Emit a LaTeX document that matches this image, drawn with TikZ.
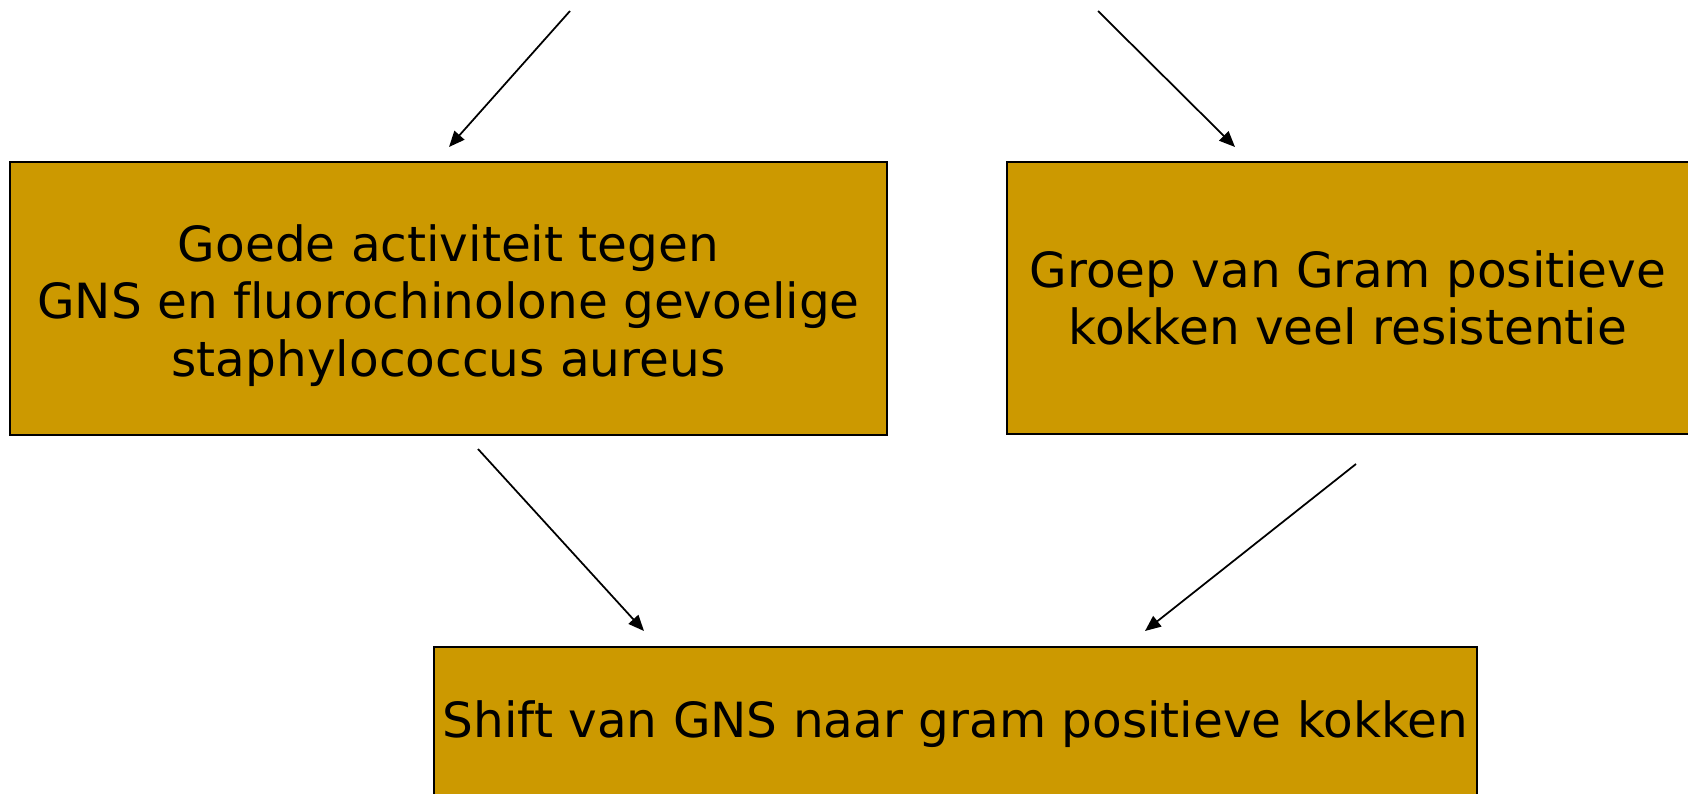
\documentclass[tikz,border=0pt]{standalone}
\usepackage{fontspec}
\setmainfont{DejaVu Sans}[Ligatures=NoCommon]
\usetikzlibrary{arrows.meta}
\definecolor{vakgoud}{HTML}{CC9900}

\begin{document}
\begin{tikzpicture}[
  x=0.02cm, y=-0.02cm, % 1 eenheid = 1 pixel, y naar beneden
  vak/.style={
    draw=black,          % zwarte rand
    line width=0.8pt,
    fill=vakgoud,        % goudkleurige vulling
    align=center,
    inner sep=0pt,
    font=\fontsize{27.6}{32.6}\selectfont
  },
  pijl/.style={
    -{Triangle[length=9pt,width=7.5pt]},
    black, line width=1pt
  }
  ]
  \useasboundingbox (0,0) rectangle (1688,794);

  % --- VAKKEN ---
  \node[vak, minimum width=17.54cm, minimum height=5.46cm] (goed) at (448.5,298.5)
    {\rule{0pt}{1.05em}Goede activiteit tegen\\ GNS en fluorochinolone gevoelige\\ staphylococcus aureus};
  \node[vak, minimum width=13.64cm, minimum height=5.44cm] (groep) at (1348,298)
    {Groep van Gram positieve\\ kokken veel resistentie};
  \node[vak, minimum width=20.86cm, minimum height=3.1cm] (shift) at (955.5,724.5)
    {Shift van GNS naar gram positieve kokken};

  % --- PIJLEN (losse begin- en eindpunten) ---
  \coordinate (p1-b) at (570,11);   \coordinate (p1-e) at (449,147);
  \coordinate (p2-b) at (1098,11);  \coordinate (p2-e) at (1235,147);
  \coordinate (p3-b) at (478,449);  \coordinate (p3-e) at (644,631);
  \coordinate (p4-b) at (1356,464); \coordinate (p4-e) at (1145,631);
  \foreach \i in {1,...,4} {
    \draw[pijl] (p\i-b) -- (p\i-e);
  }
\end{tikzpicture}
\end{document}
